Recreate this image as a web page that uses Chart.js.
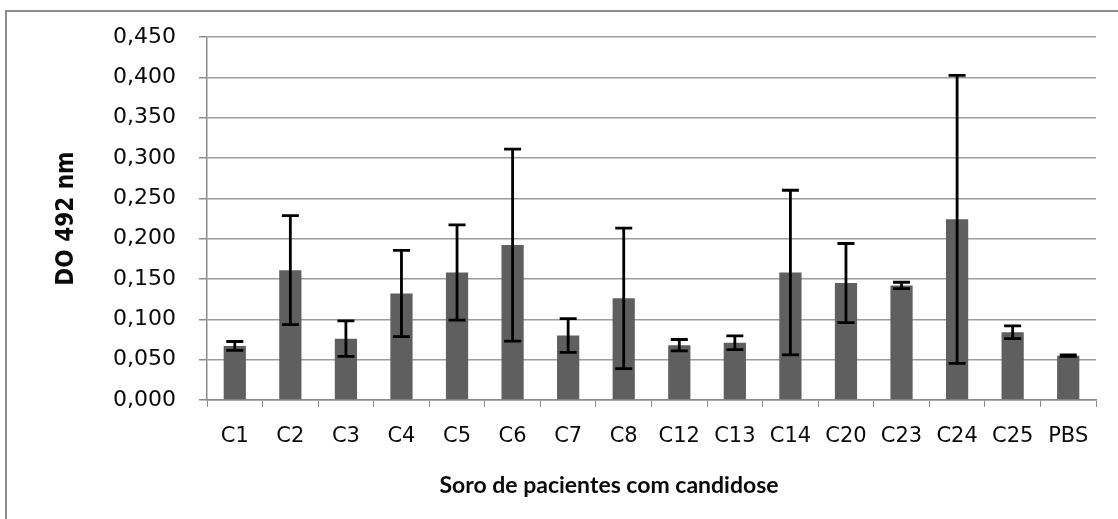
<!DOCTYPE html>
<html lang="pt">
<head>
<meta charset="utf-8">
<title>DO 492 nm – soro de pacientes com candidose</title>
<script src="https://cdn.jsdelivr.net/npm/chart.js@4"></script>
<style>
  html, body { margin: 0; padding: 0; background: #ffffff; overflow: hidden; }
  #wrap { position: relative; width: 1118px; height: 519px; }
  #frame {
    position: absolute; left: 5px; top: 10px; width: 1200px; height: 600px;
    border-top: 2px solid #8c8c8c; border-left: 2px solid #8c8c8c;
  }
  #chart { position: absolute; left: 0; top: 0; }
</style>
</head>
<body>
<div id="wrap">
  <div id="frame"></div>
  <canvas id="chart" width="1118" height="519"></canvas>
</div>
<script>
// Sera tested and the PBS control
const CATEGORIES = ['C1', 'C2', 'C3', 'C4', 'C5', 'C6', 'C7', 'C8',
                    'C12', 'C13', 'C14', 'C20', 'C23', 'C24', 'C25', 'PBS'];

// Mean optical density at 492 nm
const MEAN_OD = [0.067, 0.161, 0.076, 0.132, 0.158, 0.192, 0.080, 0.126,
                 0.068, 0.071, 0.158, 0.145, 0.142, 0.224, 0.084, 0.055];

// Standard deviation of each mean (error bars)
const SD_OD = [0.0055, 0.0675, 0.022, 0.0535, 0.059, 0.119, 0.021, 0.087,
               0.007, 0.0085, 0.102, 0.049, 0.004, 0.1785, 0.008, 0.001];

// Value-axis tick labels, Portuguese decimal comma
const Y_TICK_LABELS = ['0,000', '0,050', '0,100', '0,150', '0,200',
                       '0,250', '0,300', '0,350', '0,400', '0,450'];

const Y_TITLE = 'DO 492 nm';
const X_TITLE = 'Soro de pacientes com candidose';

const GRID = '#9c9c9c';
const AXIS = '#8c8c8c';
const TEXT = '#0a0a0a';

// Whiskers: mean ± SD, with short horizontal caps
const errorBars = {
  id: 'errorBars',
  afterDatasetsDraw(chart) {
    const x = chart.scales.x, y = chart.scales.y, ctx = chart.ctx;
    ctx.save();
    ctx.strokeStyle = '#000000';
    ctx.lineWidth = 2.8;
    const cap = 8.5;
    MEAN_OD.forEach((m, i) => {
      const px = x.getPixelForValue(i);
      const top = y.getPixelForValue(m + SD_OD[i]);
      const bot = y.getPixelForValue(m - SD_OD[i]);
      ctx.beginPath();
      ctx.moveTo(px, top); ctx.lineTo(px, bot);
      ctx.moveTo(px - cap, top); ctx.lineTo(px + cap, top);
      ctx.moveTo(px - cap, bot); ctx.lineTo(px + cap, bot);
      ctx.stroke();
    });
    ctx.restore();
  }
};

// Category-axis caption, centred under the whole frame
const xCaption = {
  id: 'xCaption',
  afterDraw(chart, args, opts) {
    const ctx = chart.ctx;
    ctx.save();
    ctx.font = opts.font;
    ctx.fillStyle = TEXT;
    ctx.textAlign = 'center';
    ctx.textBaseline = 'alphabetic';
    ctx.fillText(opts.text, opts.x, opts.y);
    ctx.restore();
  }
};

new Chart(document.getElementById('chart'), {
  type: 'bar',
  data: {
    labels: CATEGORIES,
    datasets: [{
      data: MEAN_OD,
      backgroundColor: '#5f5f5f',
      borderWidth: 0,
      barPercentage: 0.4,
      categoryPercentage: 1.0
    }]
  },
  options: {
    responsive: false,
    animation: false,
    devicePixelRatio: 1,
    layout: { padding: { left: 0, top: 37, right: 22, bottom: 0 } },
    plugins: {
      legend: { display: false },
      tooltip: { enabled: false },
      xCaption: {
        text: X_TITLE,
        font: 'bold 23px Lato, "Open Sans", sans-serif',
        x: 609,
        y: 493
      }
    },
    scales: {
      x: {
        offset: true,
        afterFit(s) { s.height = 119; },
        grid: {
          display: true,
          drawOnChartArea: false,
          drawTicks: true,
          tickLength: 7,
          tickColor: AXIS,
          offset: true
        },
        border: { display: true, color: AXIS, width: 1.5 },
        ticks: {
          autoSkip: false,
          maxRotation: 0,
          padding: 17,
          color: TEXT,
          font: { family: '"DejaVu Sans", Verdana, sans-serif', size: 21 }
        }
      },
      y: {
        min: 0,
        max: 0.45,
        afterFit(s) { s.width = 207; },
        grid: {
          color: GRID,
          lineWidth: 1.5,
          drawTicks: true,
          tickLength: 8,
          tickColor: AXIS
        },
        border: { display: true, color: AXIS, width: 1.5 },
        ticks: {
          stepSize: 0.05,
          padding: 23,
          color: TEXT,
          font: { family: '"DejaVu Sans", Verdana, sans-serif', size: 22 },
          callback: (v, i) => Y_TICK_LABELS[i]
        },
        title: {
          display: true,
          text: Y_TITLE,
          color: TEXT,
          padding: { top: 52, bottom: 0 },
          font: { family: '"Liberation Sans Narrow", "DejaVu Sans Condensed", sans-serif', size: 24, weight: 'bold' }
        }
      }
    }
  },
  plugins: [errorBars, xCaption]
});
</script>
</body>
</html>
